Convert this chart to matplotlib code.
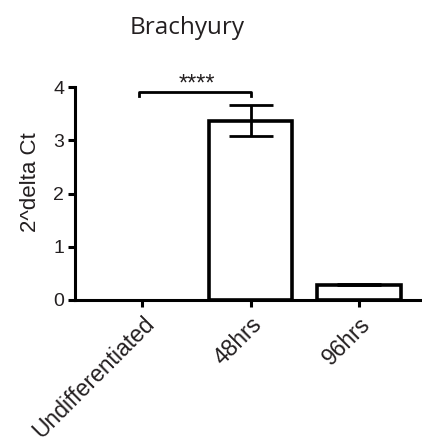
import matplotlib
matplotlib.use("Agg")
import matplotlib.pyplot as plt

# =========================
# Data
# =========================
groups = ["Undifferentiated", "48hrs", "96hrs"]
means = [0.002, 3.37, 0.29]
errors = [0.001, 0.29, 0.01]
y_ticks = [0, 1, 2, 3, 4]
sig_pair = (0, 1)
sig_label = "****"
sig_height = 3.9

# =========================
# Figure
# =========================
plt.rcParams["font.family"] = ["Liberation Sans", "DejaVu Sans"]
TEXT = "#231f20"

fig = plt.figure(figsize=(4.22, 4.47), dpi=100)
ax = fig.add_axes([0.178, 0.329, 0.822, 0.476])

x = list(range(len(groups)))
# near-zero bars vanish into the axis line in the original
edge_widths = [2.6 if m > 0.01 else 0 for m in means]
ax.bar(x, means, width=0.77, color="white", edgecolor="black",
       linewidth=edge_widths, zorder=2)
ax.errorbar(x, means, yerr=errors, fmt="none", ecolor="black",
            elinewidth=2.0, capsize=15.5, capthick=2.0, zorder=3)

# significance bracket
x0, x1 = sig_pair
ax.plot([x0 - 0.03, x0 - 0.03, x1, x1],
        [sig_height - 0.07, sig_height, sig_height, sig_height - 0.07],
        color="black", lw=2.0, clip_on=False, zorder=4)
ax.text((x0 + x1) / 2, sig_height - 0.06, sig_label, ha="center",
        va="bottom", fontsize=17, color=TEXT)

ax.set_xlim(-0.62, 2.58)
ax.set_ylim(0, 4)
ax.set_yticks(y_ticks)
ax.set_xticks(x)
ax.set_xticklabels(groups, rotation=45, ha="right", rotation_mode="anchor",
                   fontsize=16.5, color=TEXT)
ax.tick_params(axis="y", labelsize=14, labelcolor=TEXT, width=2.2,
               length=5, pad=3)
ax.tick_params(axis="x", width=2.2, length=5, pad=4)
ax.set_ylabel("2^delta Ct", fontsize=16, color=TEXT)
ax.yaxis.set_label_coords(-0.098, 0.555)

for side in ("top", "right"):
    ax.spines[side].set_visible(False)
for side in ("left", "bottom"):
    ax.spines[side].set_linewidth(2.2)

fig.text(0.443, 0.937, "Brachyury", ha="center", va="center",
         fontsize=17.5, family=["Open Sans", "DejaVu Sans"], color=TEXT)

fig.savefig("out.png", dpi=100)
